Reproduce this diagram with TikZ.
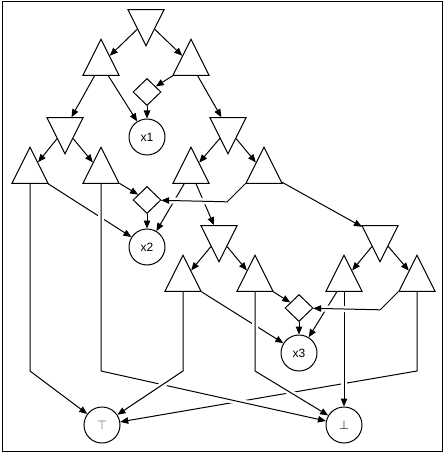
\documentclass[tikz,border=0pt]{standalone}
\usepackage{fontspec}
\setmainfont{Liberation Sans}
\newfontfamily\symfont{DejaVu Sans}
\usetikzlibrary{shapes.geometric,arrows.meta,backgrounds}

\tikzstyle{uptri} = [isosceles triangle, isosceles triangle stretches, shape border rotate=90, minimum width=36pt, minimum height=36pt, inner sep=0pt, draw=black, anchor=apex]
\tikzstyle{downtri} = [uptri, shape border rotate=270]
\tikzstyle{diam} = [diamond, minimum width=28pt, minimum height=27pt, inner sep=0pt, draw=black]
\tikzstyle{leaf} = [circle, minimum size=36pt, inner sep=0pt, draw=black, font=\fontsize{12}{14}\selectfont]
\tikzstyle{arrow} = [->, >={Triangle[length=8pt,width=6.5pt]}, line width=1pt, draw=black]
\tikzstyle{jump} = [preaction={draw=white, line width=6pt, -, shorten >=8pt}]

\begin{document}
\begin{tikzpicture}[x=1pt, y=-1pt, line width=1pt]
	\useasboundingbox (0,0) rectangle (445,454);
	\draw (2,2) rectangle (442,451);

	\node (T0) [downtri] at (146,47) {};
	\node (A) [uptri] at (101,38) {};
	\node (B) [uptri] at (191,38) {};
	\node (D1) [diam] at (147,92) {};
	\node (x1) [leaf] at (147,137) {x1};
	\node (C) [downtri] at (65,155) {};
	\node (E) [downtri] at (228,155) {};
	\node (F) [uptri] at (30,146) {};
	\node (G) [uptri] at (101,146) {};
	\node (H) [uptri] at (191,146) {};
	\node (I) [uptri] at (264,146) {};
	\node (D2) [diam] at (147,200) {};
	\node (x2) [leaf] at (147,247) {x2};
	\node (J) [downtri] at (219,263) {};
	\node (K) [downtri] at (380,263) {};
	\node (L) [uptri] at (183,254) {};
	\node (M) [uptri] at (255,254) {};
	\node (N) [uptri] at (344,254) {};
	\node (O) [uptri] at (417,254) {};
	\node (D3) [diam] at (299,308) {};
	\node (x3) [leaf] at (299,353) {x3};
	\node (verum) [leaf, text=gray] at (102,425) {\symfont ⊤};
	\node (falsum) [leaf, text=black!75] at (344,425) {\symfont ⊥};
	\coordinate (lvl) at (0,371);

	\begin{pgfonlayer}{background}
	\draw [arrow] (T0) -- (A);
	\draw [arrow] (T0) -- (B);
	\draw [arrow] (A) -- (C);
	\draw [arrow] (A) -- (x1);
	\draw [arrow] (B) -- (D1);
	\draw [arrow] (B) -- (E);
	\draw [arrow] (D1) -- (x1);
	\draw [arrow] (C) -- (F);
	\draw [arrow] (C) -- (G);
	\draw [arrow] (E) -- (H);
	\draw [arrow] (E) -- (I);
	\draw [arrow] (G) -- (D2);
	\draw [arrow] (D2) -- (x2);
	\draw [arrow] (F) -- (x2);
	\draw [arrow] (H) -- (x2);
	\draw [arrow] (H) -- (J);
	\draw [arrow] (I) -- (K);
	\draw [arrow] (J) -- (L);
	\draw [arrow] (J) -- (M);
	\draw [arrow] (K) -- (N);
	\draw [arrow] (K) -- (O);
	\draw [arrow] (M) -- (D3);
	\draw [arrow] (D3) -- (x3);
	\draw [arrow] (L) -- (x3);
	\draw [arrow] (N) -- (x3);
	\draw [arrow] (F.lower side) -- (F.lower side |- lvl) -- (verum);
	\draw [arrow] (O.lower side) -- (O.lower side |- lvl) -- (verum);
	% lines that cut a gap in the ones drawn before
	\draw [arrow, jump] (G.lower side) -- (G.lower side |- lvl) -- (falsum);
	\draw [arrow, jump] (M.lower side) -- (M.lower side |- lvl) -- (falsum);
	\draw [arrow, jump] (N.lower side) -- (falsum);
	\draw [arrow, jump] (I.left corner) -- ++(-18,18) -- (D2);
	\draw [arrow, jump] (O.left corner) -- ++(-18,18) -- (D3);
	\draw [arrow, jump] (L.lower side) -- (L.lower side |- lvl) -- (verum);
	\end{pgfonlayer}
\end{tikzpicture}
\end{document}
